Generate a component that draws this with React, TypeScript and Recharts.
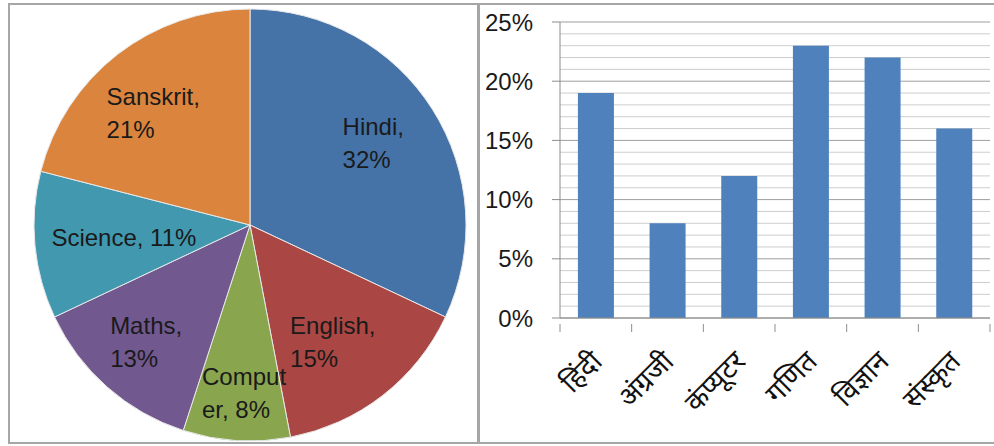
import { PieChart, Pie, Cell, BarChart, Bar, XAxis, YAxis, CartesianGrid, ReferenceLine } from "recharts";

// pie: share of students by favourite subject
const subjects = ["Hindi", "English", "Computer", "Maths", "Science", "Sanskrit"];
const subjectShares = [32, 15, 8, 13, 11, 21];
// Excel wrapped the labels this way, keep it
const pieLabelLines = [
  ["Hindi,", "32%"],
  ["English,", "15%"],
  ["Comput", "er, 8%"],
  ["Maths,", "13%"],
  ["Science, 11%"],
  ["Sanskrit,", "21%"],
];
const PIE_COLORS = ["#4572a7", "#aa4643", "#89a54e", "#71588f", "#4198af", "#db843d"];

// bars: same subjects, in Hindi
const hindiSubjects = ["हिंदी", "अंग्रजी", "कंप्यूटर", "गणित", "विज्ञान", "संस्कृत"];
const hindiScores = [19, 8, 12, 23, 22, 16];
const majorTicks = [0, 5, 10, 15, 20, 25];
const minorTicks = [1, 2, 3, 4, 6, 7, 8, 9, 11, 12, 13, 14, 16, 17, 18, 19, 21, 22, 23, 24];

const FONT = "'Liberation Sans', Arial, sans-serif";
const FS = 24;
const LINE_H = 33;

const BAR_W = 514;
const BAR_H = 437;
const BAR_MARGIN = { top: 17, right: 4, left: 0, bottom: 0 };
const Y_W = 80;
const X_H = 124;
const BAND = (BAR_W - BAR_MARGIN.left - BAR_MARGIN.right - Y_W) / hindiSubjects.length;

const pieData = subjects.map((name, i) => ({ name, value: subjectShares[i] }));
const barData = hindiSubjects.map((name, i) => ({ name, value: hindiScores[i] }));

const RAD = Math.PI / 180;

// "best fit" like Excel: push the label box out along the slice's mid angle
// until its outer corner sits at ~92% of the radius
function renderPieLabel(props: any) {
  const { cx, cy, midAngle, outerRadius, index } = props;
  const lines = pieLabelLines[index];
  const ux = Math.cos(-midAngle * RAD);
  const uy = Math.sin(-midAngle * RAD);
  const widest = Math.max(...lines.map((l) => l.length));
  const hw = (widest * FS * 0.52) / 2;
  const hh = ((lines.length - 1) * LINE_H + 20) / 2;
  const R = outerRadius * 0.925;
  const b = Math.abs(ux) * hw + Math.abs(uy) * hh;
  const c = hw * hw + hh * hh - R * R;
  const d = -b + Math.sqrt(b * b - c);
  const mx = cx + d * ux;
  const my = cy + d * uy;
  const left = mx - hw;
  const top = my - ((lines.length - 1) * LINE_H) / 2;
  return (
    <text x={left} y={top} fontSize={FS} fill="#1a1a1a" fontFamily={FONT} dominantBaseline="central">
      {lines.map((l, i) => (
        <tspan key={i} x={left} y={top + i * LINE_H}>
          {l}
        </tspan>
      ))}
    </text>
  );
}

function HindiTick(props: any) {
  const { x, y, payload, index } = props;
  const axisY = y - 2;
  return (
    <g>
      <line x1={x - BAND / 2} y1={axisY} x2={x - BAND / 2} y2={axisY + 8} stroke="#8c8c8c" />
      {index === hindiSubjects.length - 1 && (
        <line x1={x + BAND / 2} y1={axisY} x2={x + BAND / 2} y2={axisY + 8} stroke="#8c8c8c" />
      )}
      <text
        x={0}
        y={0}
        transform={`translate(${x + 8},${axisY + 39}) rotate(-45)`}
        textAnchor="end"
        fontSize={28}
        fill="#111"
        fontFamily="'Noto Sans Devanagari', 'Lohit Devanagari', 'FreeSans', 'Noto Sans', sans-serif"
      >
        {payload.value}
      </text>
    </g>
  );
}

export default function App() {
  return (
    <div
      style={{
        position: "absolute",
        left: 0,
        top: 0,
        width: 994,
        height: 446,
        overflow: "hidden",
        background: "#fff",
        fontFamily: FONT,
      }}
    >
      <div
        style={{
          position: "absolute",
          left: 8,
          top: 3,
          width: 471,
          height: 441,
          border: "2px solid #a6a6a6",
          boxSizing: "border-box",
        }}
      >
        <PieChart width={467} height={437} margin={{ top: 0, right: 0, bottom: 0, left: 0 }}>
          <Pie
            data={pieData}
            dataKey="value"
            nameKey="name"
            cx={240}
            cy={220}
            outerRadius={216}
            startAngle={90}
            endAngle={-270}
            stroke="#e8e8e8"
            strokeWidth={1}
            label={renderPieLabel}
            labelLine={false}
            isAnimationActive={false}
          >
            {pieData.map((_, i) => (
              <Cell key={i} fill={PIE_COLORS[i]} />
            ))}
          </Pie>
        </PieChart>
      </div>

      <div
        style={{
          position: "absolute",
          left: 478,
          top: 3,
          width: 540,
          height: 441,
          border: "2px solid #a6a6a6",
          boxSizing: "border-box",
        }}
      >
        <BarChart width={BAR_W} height={BAR_H} data={barData} margin={BAR_MARGIN} barCategoryGap="25%">
          {minorTicks.map((t) => (
            <ReferenceLine key={t} y={t} stroke="#cdcdcd" zIndex={-100} />
          ))}
          <CartesianGrid vertical={false} stroke="#9e9e9e" />
          <XAxis
            dataKey="name"
            height={X_H}
            tickLine={false}
            stroke="#8c8c8c"
            interval={0}
            tick={<HindiTick />}
          />
          <YAxis
            domain={[0, 25]}
            ticks={majorTicks}
            tickFormatter={(v) => `${v}%`}
            width={Y_W}
            tickSize={8}
            tickMargin={19}
            stroke="#8c8c8c"
            tick={{ fill: "#1a1a1a", fontSize: FS }}
          />
          <Bar dataKey="value" fill="#4f81bd" isAnimationActive={false} />
        </BarChart>
      </div>
    </div>
  );
}
